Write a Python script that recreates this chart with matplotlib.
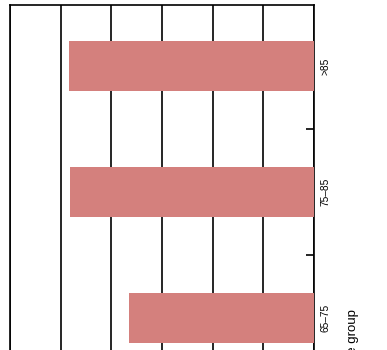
import matplotlib
matplotlib.use("Agg")
import matplotlib.pyplot as plt
import numpy as np

categories = ["65–75", "75–85", ">85"]
values = [3.65, 4.82, 4.84]
x_ticks = [0, 1, 2, 3, 4, 5, 6]
ylabel = "Age group"

plt.rcParams['font.family'] = ['Liberation Sans', 'DejaVu Sans']

W, H = 387, 350
fig = plt.figure(figsize=(W / 100, H / 100), dpi=100)
top_px, left_px, right_px = 5, 10, 314
unit_px = 126
ylim = (-0.5, 2.485)
ax_h_px = (ylim[1] - ylim[0]) * unit_px
ax = fig.add_axes([left_px / W, (H - top_px - ax_h_px) / H,
                   (right_px - left_px) / W, ax_h_px / H])

pos = np.arange(len(categories))
ax.barh(pos, values, height=0.4, color="#D4807D", zorder=3)

ax.set_xlim(6, 0)
ax.set_ylim(*ylim)
ax.set_xticks(x_ticks)
ax.grid(axis='x', color='black', linewidth=1.2, zorder=0)
ax.set_axisbelow(True)
ax.tick_params(axis='x', which='both', length=0, labelbottom=False, labeltop=False)

ax.yaxis.tick_right()
ax.set_yticks(pos[:-1] + 0.5)
ax.set_yticklabels([])
ax.set_yticks(pos, minor=True)
ax.set_yticklabels(categories, minor=True, rotation=90, va='center', fontsize=7.3)
ax.tick_params(axis='y', which='major', direction='in', length=6, width=1.2, color='black')
ax.tick_params(axis='y', which='minor', length=0, pad=4.5)

for s in ax.spines.values():
    s.set_color('black')
    s.set_linewidth(1.2)

ax.yaxis.set_label_position('right')
ax.set_ylabel(ylabel, fontsize=9.5, rotation=90)
ax.yaxis.set_label_coords((347 - left_px) / (right_px - left_px), 42 / ax_h_px)

fig.savefig("out.png", dpi=100)
